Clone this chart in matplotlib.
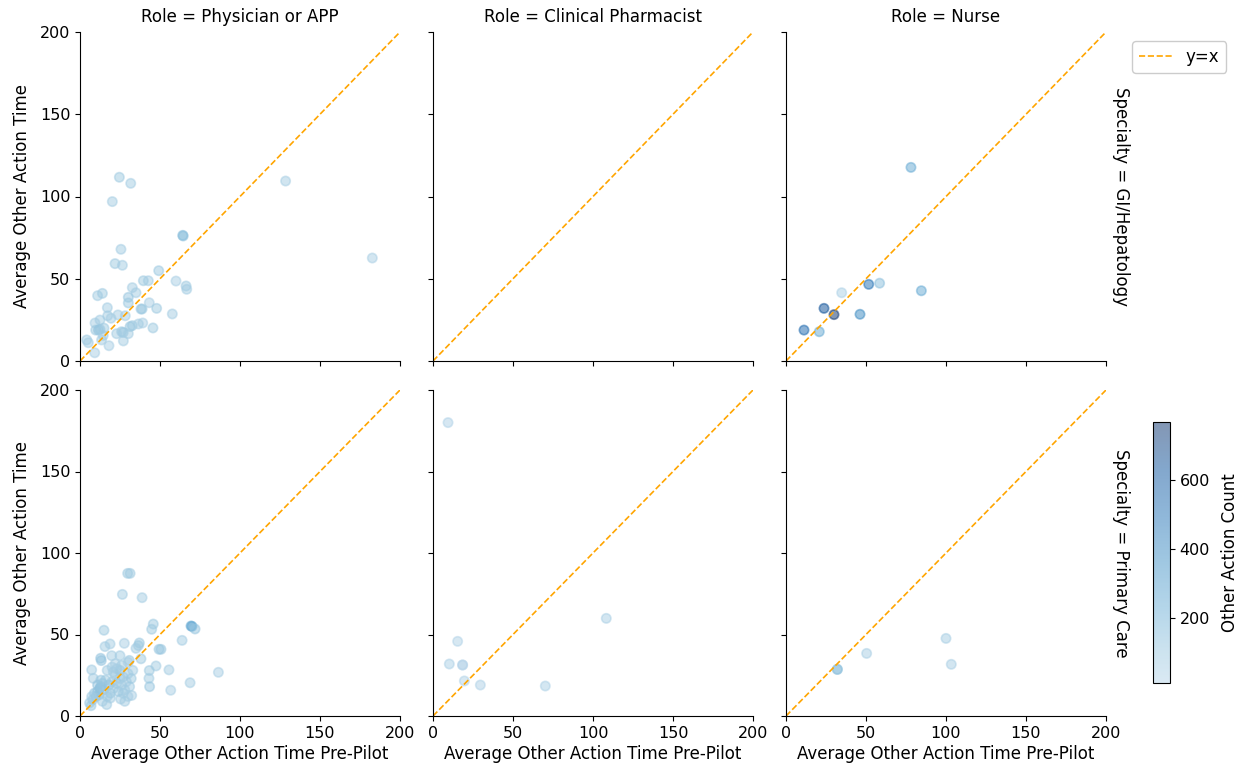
import numpy as np
import matplotlib
matplotlib.use("Agg")
import matplotlib.pyplot as plt
from matplotlib.colors import LinearSegmentedColormap, Normalize
from matplotlib.lines import Line2D

roles = ["Physician or APP", "Clinical Pharmacist", "Nurse"]
specialties = ["GI/Hepatology", "Primary Care"]

# Physician or APP / GI-Hepatology
phys_gi_x = [24.6, 31.7, 20.2, 128.5, 182.7, 64.2, 64.5, 25.6, 21.9, 26.5, 49.2, 39.6, 42.7, 60.0,
             66.3, 66.7, 32.7, 57.7, 11.0, 14.0, 35.0, 30.2, 30.2, 17.1, 43.3, 38.1, 38.8, 47.9,
             17.3, 19.4, 28.3, 39.2, 9.4, 9.8, 12.5, 11.5, 12.5, 31.3, 32.7, 45.6, 26.0, 27.0,
             22.9, 30.2, 4.2, 5.2, 13.5, 18.1, 27.1, 9.2, 23.7, 14.5, 15.0, 36.5]
phys_gi_y = [111.7, 108.0, 96.9, 109.4, 62.6, 76.4, 76.0, 67.9, 59.2, 58.2, 54.9, 48.8, 48.8, 48.6,
             45.6, 43.6, 44.6, 28.6, 39.7, 41.1, 41.5, 38.7, 35.3, 32.4, 35.4, 31.6, 31.6, 32.0,
             27.5, 26.0, 27.5, 23.1, 23.1, 18.8, 24.9, 18.8, 19.2, 20.9, 21.5, 20.1, 17.8, 17.3,
             16.6, 16.6, 12.8, 11.1, 12.8, 9.3, 12.2, 5.0, 28.0, 15.5, 20.0, 22.5]
phys_gi_c = [90, 80, 70, 70, 60, 140, 140, 80, 90, 80, 100, 90, 80, 60,
             90, 80, 70, 70, 80, 90, 80, 110, 100, 80, 60, 100, 100, 90,
             80, 70, 80, 60, 70, 90, 80, 120, 110, 110, 100, 90, 100, 110,
             80, 70, 90, 80, 70, 60, 70, 60, 70, 80, 90, 70]

# Physician or APP / Primary Care
phys_pc_x = [29.8, 31.3, 26.5, 38.8, 45.8, 44.8, 69.4, 70.0, 71.9, 15.0, 63.8, 18.8, 15.6, 27.7,
             37.1, 36.5, 35.0, 49.4, 50.6, 12.9, 13.3, 19.8, 25.0, 30.8, 38.1, 47.5, 55.6, 86.5,
             7.3, 8.3, 43.3, 43.1, 43.5, 20.8, 23.0, 25.0, 68.8, 56.7, 12.5, 6.9, 16.7, 25.4,
             32.3, 27.0, 10.0, 11.0, 12.0, 13.0, 14.0, 15.0, 16.0, 17.0, 18.0, 19.0, 20.0, 21.0,
             22.0, 23.0, 24.0, 25.0, 26.0, 27.0, 28.0, 29.0, 30.0, 31.0, 32.0, 33.0, 20.0, 22.0,
             17.0, 9.0, 8.0, 6.0, 14.0, 19.0, 30.0, 28.0, 11.0, 13.0, 26.0, 30.0, 7.3]
phys_pc_y = [87.5, 87.5, 74.6, 72.6, 56.4, 53.2, 55.2, 55.0, 53.4, 52.6, 46.4, 44.2, 42.6, 44.6,
             44.8, 43.2, 41.5, 40.9, 40.9, 35.4, 34.0, 37.0, 37.0, 34.1, 35.1, 30.7, 28.3, 26.8,
             28.3, 23.1, 27.9, 23.1, 18.0, 27.0, 29.0, 28.0, 20.4, 15.8, 17.0, 6.3, 7.0, 10.4,
             12.6, 14.0, 12.0, 15.0, 13.0, 18.0, 20.0, 16.0, 22.0, 12.0, 19.0, 14.0, 21.0, 17.0,
             25.0, 20.0, 15.0, 23.0, 19.0, 24.0, 16.0, 21.0, 26.0, 18.0, 23.0, 28.0, 30.0, 32.0,
             28.0, 14.0, 10.0, 8.0, 9.0, 11.0, 12.0, 9.0, 19.0, 22.0, 31.0, 33.0, 11.9]
phys_pc_c = [90, 90, 80, 70, 100, 90, 250, 250, 120, 90, 80, 70, 80, 60,
             100, 90, 80, 110, 110, 120, 120, 70, 80, 100, 90, 80, 70, 60,
             80, 70, 90, 80, 110, 90, 80, 120, 70, 60, 250, 90, 80, 70,
             60, 80, 150, 140, 130, 120, 110, 100, 90, 80, 130, 100, 90, 80,
             70, 100, 90, 80, 70, 90, 80, 60, 70, 80, 90, 70, 60, 60,
             70, 120, 110, 100, 80, 70, 60, 70, 120, 110, 70, 60, 80]

# Clinical Pharmacist / GI-Hepatology (no data)
pharm_gi_x = []
pharm_gi_y = []
pharm_gi_c = []

# Clinical Pharmacist / Primary Care
pharm_pc_x = [9.4, 15.4, 10.2, 18.5, 18.5, 19.6, 29.6, 70.2, 108.3]
pharm_pc_y = [180.0, 45.8, 31.9, 31.3, 31.3, 21.5, 19.0, 18.4, 59.9]
pharm_pc_c = [40, 30, 50, 40, 10, 30, 40, 50, 60]

# Nurse / GI-Hepatology
nurse_gi_x = [78.1, 11.25, 20.8, 23.75, 30.0, 34.8, 46.25, 51.7, 58.5, 84.6]
nurse_gi_y = [117.7, 18.8, 17.8, 32.0, 28.2, 41.5, 28.4, 46.6, 47.3, 42.7]
nurse_gi_c = [250, 550, 250, 650, 770, 50, 400, 500, 150, 250]

# Nurse / Primary Care
nurse_pc_x = [32.1, 32.1, 50.4, 100.0, 103.3]
nurse_pc_y = [28.6, 28.6, 38.4, 47.6, 31.7]
nurse_pc_c = [150, 120, 60, 70, 60]

panels = {
    ("GI/Hepatology", "Physician or APP"): (phys_gi_x, phys_gi_y, phys_gi_c),
    ("GI/Hepatology", "Clinical Pharmacist"): (pharm_gi_x, pharm_gi_y, pharm_gi_c),
    ("GI/Hepatology", "Nurse"): (nurse_gi_x, nurse_gi_y, nurse_gi_c),
    ("Primary Care", "Physician or APP"): (phys_pc_x, phys_pc_y, phys_pc_c),
    ("Primary Care", "Clinical Pharmacist"): (pharm_pc_x, pharm_pc_y, pharm_pc_c),
    ("Primary Care", "Nurse"): (nurse_pc_x, nurse_pc_y, nurse_pc_c),
}

ticks = [0, 50, 100, 150, 200]

base = plt.get_cmap("Blues")
cmap = LinearSegmentedColormap.from_list("blues_trunc", base(np.linspace(0.3, 1.0, 256)))
all_c = [c for v in panels.values() for c in v[2]]
norm = Normalize(vmin=min(all_c), vmax=max(all_c))

FS = 12
TFS = 11.5
fig = plt.figure(figsize=(12.46, 7.75), dpi=100)
W, H = 1246, 775
lefts = [80, 433, 786]
aw = 320
rows = [(32, 361), (390, 716)]

sc = None
for ri, spec in enumerate(specialties):
    top, bot = rows[ri]
    for ci, role in enumerate(roles):
        ax = fig.add_axes([lefts[ci] / W, 1 - bot / H, aw / W, (bot - top) / H])
        x, y, c = panels[(spec, role)]
        if len(x):
            sc = ax.scatter(x, y, c=c, cmap=cmap, norm=norm, s=45, alpha=0.5, linewidths=1.2)
        ax.plot([0, 200], [0, 200], color="orange", linestyle="--", linewidth=1.2)
        ax.set_xlim(0, 200)
        ax.set_ylim(0, 200)
        ax.set_xticks(ticks)
        ax.set_yticks(ticks)
        ax.spines["top"].set_visible(False)
        ax.spines["right"].set_visible(False)
        ax.tick_params(labelsize=TFS)
        if ri == 0:
            ax.set_title(f"Role = {role}", fontsize=FS, pad=7)
            ax.tick_params(labelbottom=False)
        else:
            ax.set_xlabel("Average Other Action Time Pre-Pilot", fontsize=FS, labelpad=3)
        if ci == 0:
            ax.set_ylabel("Average Other Action Time", fontsize=FS, labelpad=6)
        else:
            ax.tick_params(labelleft=False)
        if ci == 2:
            ax.annotate(f"Specialty = {spec}", xy=(1.02, 0.5), xycoords="axes fraction",
                        rotation=270, ha="left", va="center", fontsize=FS)

handle = Line2D([], [], color="orange", linestyle="--", linewidth=1.2)
fig.legend([handle], ["y=x"], loc="upper left", bbox_to_anchor=(1124 / W, 1 - 33 / H),
           fontsize=FS, handlelength=2.0, framealpha=1)

cax = fig.add_axes([1153 / W, 1 - 683 / H, 17 / W, (683 - 422) / H])
cb = fig.colorbar(sc, cax=cax)
cb.set_ticks([200, 400, 600])
cb.ax.tick_params(labelsize=TFS)
cb.set_label("Other Action Count", fontsize=FS, labelpad=8)

fig.savefig("out.png", dpi=100)
